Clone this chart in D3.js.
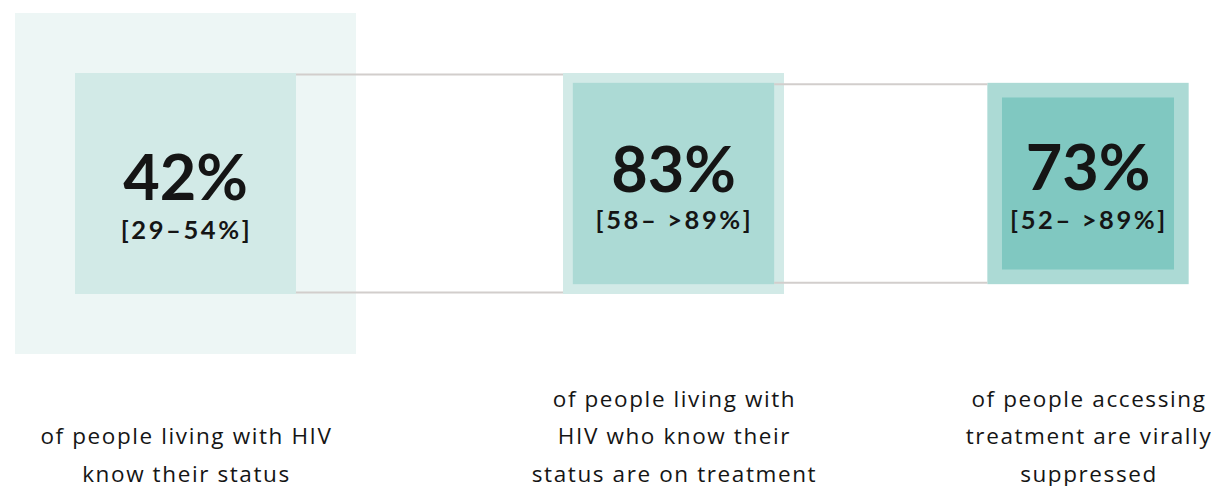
<!DOCTYPE html>
<html><head><meta charset="utf-8">
<script src="https://cdn.jsdelivr.net/npm/d3@7"></script>
<style>html,body{margin:0;padding:0;background:#fff;}svg{display:block;}</style>
</head><body><svg id="chart" width="1211" height="486"></svg>
<script>
// ---- data ----
const stages = ["Know status", "On treatment", "Virally suppressed"];
const values = [42, 83, 73];
const ranges = ["[29–54%]", "[58– >89%]", "[52– >89%]"];
const labels = [
  ["of people living with HIV", "know their status"],
  ["of people living with", "HIV who know their", "status are on treatment"],
  ["of people accessing", "treatment are virally", "suppressed"]
];

// ---- layout / style ----
const W = 1211, H = 486;
const baseSide = 341;
const centersX = [185.5, 673.5, 1088];
const centerY = 183.5;
const valueBaseline = [200, 191.5, 189.5];
const rangeBaseline = [238.5, 228.5, 228.5];
const shades = ["#edf6f5", "#d2eae7", "#acdad5", "#80c8c1"];
const lineColor = "#d2cecc";
const textColor = "#151515";

const svg = d3.select("#chart");

// nested sizes: inner square area proportional to value of its outer square
let outer = baseSide;
const boxes = values.map((v, i) => {
  const s = d3.scaleSqrt().domain([0, 100]).range([0, outer]);
  const inner = s(v);
  const b = { i, v, name: stages[i], outer, inner, cx: centersX[i] };
  outer = inner;
  return b;
});

const g = svg.append("g");
g.selectAll("rect.outer").data(boxes).join("rect")
  .attr("class", "outer")
  .attr("x", d => d.cx - d.outer / 2)
  .attr("y", d => centerY - d.outer / 2)
  .attr("width", d => d.outer).attr("height", d => d.outer)
  .attr("fill", d => shades[d.i]);
g.selectAll("rect.inner").data(boxes).join("rect")
  .attr("class", "inner")
  .attr("x", d => d.cx - d.inner / 2)
  .attr("y", d => centerY - d.inner / 2)
  .attr("width", d => d.inner).attr("height", d => d.inner)
  .attr("fill", d => shades[d.i + 1]);

// connectors
d3.pairs(boxes).forEach(([a, b]) => {
  const x1 = a.cx + a.inner / 2, x2 = b.cx - b.outer / 2;
  const top = centerY - a.inner / 2 + 1.5, bot = centerY + a.inner / 2 - 1.5;
  [top, bot].forEach(y => {
    g.append("line").attr("x1", x1).attr("x2", x2).attr("y1", y).attr("y2", y)
      .attr("stroke", lineColor).attr("stroke-width", 2);
  });
});

g.selectAll("text.val").data(boxes).join("text")
  .attr("class", "val")
  .attr("x", d => d.cx).attr("y", d => valueBaseline[d.i])
  .attr("text-anchor", "middle")
  .attr("font-family", "Lato, 'Noto Sans', sans-serif")
  .attr("font-weight", 700).attr("font-size", 63)
  .attr("fill", textColor)
  .text(d => d.v + "%");

g.selectAll("text.rng").data(boxes).join("text")
  .attr("class", "rng")
  .attr("x", d => d.cx + 1).attr("y", d => rangeBaseline[d.i])
  .attr("text-anchor", "middle")
  .attr("font-family", "Lato, 'Noto Sans', sans-serif")
  .attr("font-weight", 700).attr("font-size", 25.5)
  .attr("letter-spacing", 2.6)
  .attr("fill", textColor)
  .text(d => ranges[d.i]);

// labels, bottom aligned
const lastBaseline = 481.5, lineH = 37.5;
boxes.forEach(d => {
  const lines = labels[d.i];
  const t = g.append("text")
    .attr("text-anchor", "middle")
    .attr("font-family", "'Open Sans', 'Noto Sans', sans-serif")
    .attr("font-size", 22.5).attr("letter-spacing", 1.6)
    .attr("fill", textColor);
  lines.forEach((ln, k) => {
    t.append("tspan").attr("x", d.cx + 1)
      .attr("y", lastBaseline - (lines.length - 1 - k) * lineH)
      .text(ln);
  });
});
</script></body></html>
